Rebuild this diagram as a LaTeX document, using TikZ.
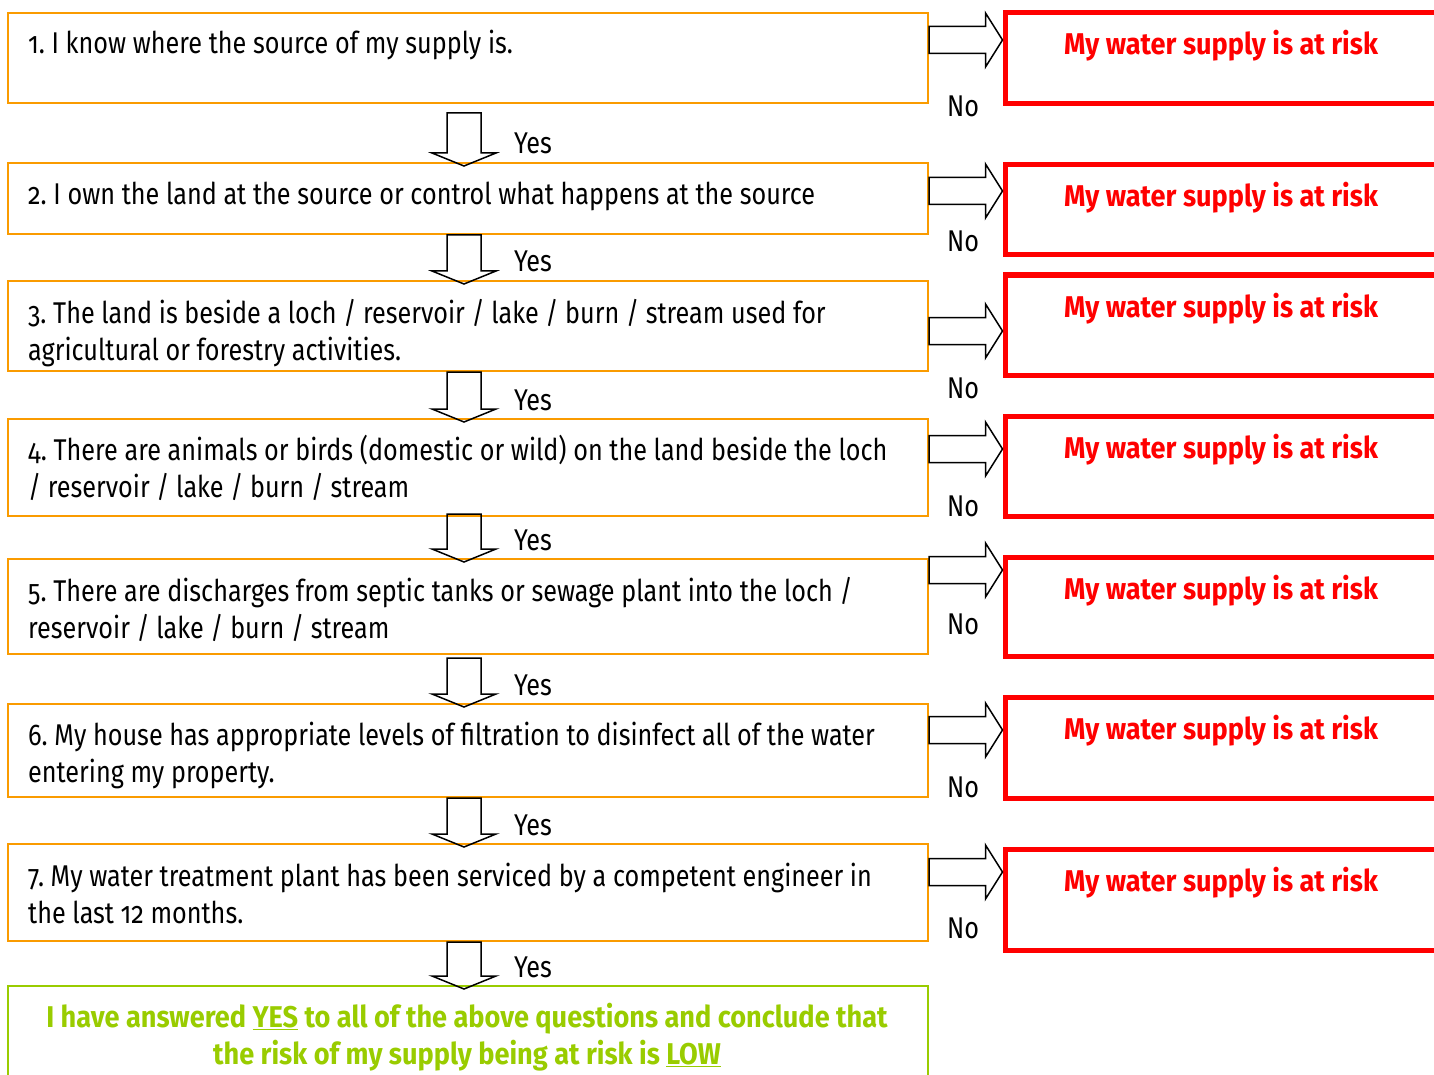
\documentclass[tikz,border=0pt]{standalone}
\usepackage{fontspec}
\setmainfont{Fira Sans}[Numbers=OldStyle, FakeStretch=0.84, BoldFeatures={FakeStretch=0.905}]
\frenchspacing
\usetikzlibrary{calc,positioning}

\definecolor{boxorange}{RGB}{250,155,0}
\definecolor{riskred}{RGB}{255,0,0}
\definecolor{lowgreen}{RGB}{153,204,0}

% hollow block arrows, #1 = tail (middle), #2 = tip
\newcommand{\yesarrow}[2]{%
	\draw[blockarrow] ($(#1)+(-17,0)$) -- ($(#2)+(-17,-13)$) -- ($(#2)+(-32,-13)$) -- (#2)
		-- ($(#2)+(32,-13)$) -- ($(#2)+(17,-13)$) -- ($(#1)+(17,0)$) -- cycle;}
\newcommand{\noarrow}[2]{%
	\draw[blockarrow] ($(#1)+(0,-13.5)$) -- ($(#2)+(-17,-13.5)$) -- ($(#2)+(-17,-27)$) -- (#2)
		-- ($(#2)+(-17,27)$) -- ($(#2)+(-17,13.5)$) -- ($(#1)+(0,13.5)$) -- cycle;}

\begin{document}
\begin{tikzpicture}[x=1pt,y=-1pt,font=\fontsize{30}{37}\selectfont]
	\tikzstyle{question} = [draw=boxorange, line width=2pt, rectangle, minimum width=920, inner sep=0pt]
	\tikzstyle{qtext} = [anchor=base west, text width=900, align=flush left, inner sep=0pt]
	\tikzstyle{riskbox} = [draw=riskred, line width=5pt, rectangle, minimum width=435, inner sep=0pt]
	\tikzstyle{risktext} = [anchor=base, text=riskred, font=\fontsize{30}{37}\selectfont\bfseries, inner sep=0pt]
	\tikzstyle{verdict} = [draw=lowgreen, line width=2pt, rectangle, minimum width=920, inner sep=0pt]
	\tikzstyle{verdicttext} = [anchor=base, text width=900, align=flush center, text=lowgreen, font=\fontsize{30}{37}\selectfont\bfseries, inner sep=0pt]
	\tikzstyle{answer} = [anchor=base, inner sep=0pt]
	\tikzstyle{blockarrow} = [draw=black, line width=1.5pt, line join=miter]

	\useasboundingbox (0,0) rectangle (1434,1075);
	\clip (0,0) rectangle (1434,1075);

	\coordinate (ax) at (464,0);

	\foreach \k/\t/\b in {1/13/103, 2/163/234, 3/281/371, 4/419/516, 5/559/654, 6/704/797, 7/844/941}
		{ \node [question, minimum height={\b-\t}] (q\k) at (468, {(\t+\b)/2}) {};}
	\node [verdict, minimum height=140] (verdict) at (468, 1056) {};

	\node [qtext] (t1) at (28,54) {1. I know where the source of my supply is.};
	\node [qtext] (t2) at (28,205) {2. I own the land at the source or control what happens at the source};
	\node [qtext] (t3) at (28,323) {3. The land is beside a loch / reservoir / lake / burn / stream used for\\agricultural or forestry activities.};
	\node [qtext] (t4) at (28,460) {4. There are animals or birds (domestic or wild) on the land beside the loch\\/ reservoir / lake / burn / stream};
	\node [qtext] (t5) at (28,601) {5. There are discharges from septic tanks or sewage plant into the loch /\\reservoir / lake / burn / stream};
	\node [qtext] (t6) at (28,745) {6. My house has appropriate levels of filtration to disinfect all of the water\\entering my property.};
	\node [qtext] (t7) at (28,886) {7. My water treatment plant has been serviced by a competent engineer in\\the last 12 months.};
	\node [verdicttext] (vt) at (467,1027) {I have answered \underline{YES} to all of the above questions and conclude that\\the risk of my supply being at risk is \underline{LOW}};

	% down arrows between the questions
	\foreach \a/\b/\s in {q1/q2/9, q2/q3/0, q3/q4/0, q4/q5/-3, q5/q6/3, q6/q7/0, q7/verdict/0}
	{
		\coordinate (top\a) at ($(ax |- \a.south)+(0,\s)$);
		\coordinate (tip\a) at ($(ax |- \b.north)+(0,4)$);
		\yesarrow{top\a}{tip\a}
		\node [answer] (yes\a) at ($(tip\a)+(69,-12)$) {Yes};
	}

	% risk boxes on the right
	\foreach \k/\ay/\rt/\rb/\ny in {1/40/13/104/117, 2/191/165/255/252, 3/331/275/375/398, 4/449/416/516/516, 5/570/557/656/634, 6/730/697/798/797, 7/872/849/950/938}
	{
		\node [riskbox, minimum height={\rb-\rt}] (r\k) at (1222.5, {(\rt+\rb)/2}) {};
		\node [risktext] (rt\k) at (1221, \rt+42) {My water supply is at risk};
		\noarrow{q\k.east |- 0,\ay}{r\k.west |- 0,\ay}
		\node [answer] (no\k) at (963, \ny) {No};
	}
\end{tikzpicture}
\end{document}
